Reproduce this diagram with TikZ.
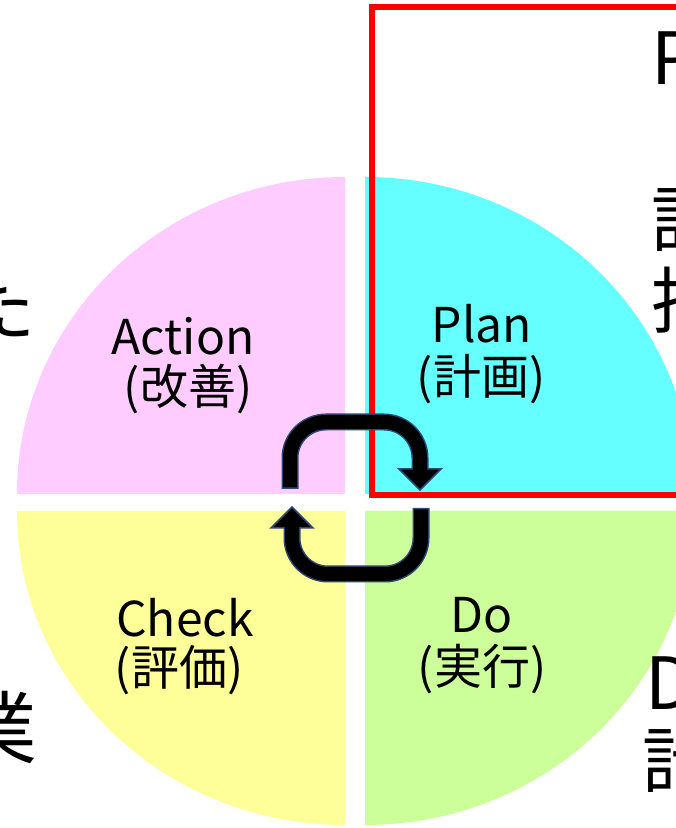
\documentclass[tikz,border=0pt]{standalone}
\usepackage{fontspec}
\setmainfont{Noto Sans CJK JP}
\definecolor{qpink}{HTML}{FFCCFF}
\definecolor{qcyan}{HTML}{66FFFF}
\definecolor{qyellow}{HTML}{FFFF99}
\definecolor{qgreen}{HTML}{CCFF99}
\definecolor{arrnavy}{RGB}{47,72,120}
\begin{document}
\begin{tikzpicture}[x=1pt,y=1pt,
  lbl/.style={font=\fontsize{48}{52}\selectfont, anchor=base, inner sep=0pt},
  bigw/.style={font=\fontsize{72}{80}\selectfont, anchor=base west, inner sep=0pt},
  bige/.style={font=\fontsize{72}{80}\selectfont, anchor=base east, inner sep=0pt},
  shaftout/.style={draw=arrnavy, line width=17pt, rounded corners=36pt},
  shaftin/.style={draw=black, line width=14pt, rounded corners=36pt},
  headtri/.style={fill=black, draw=arrnavy, line width=1.5pt, line join=miter}]
\useasboundingbox (0,0) rectangle (676,828);
\clip (0,0) rectangle (676,828);
\fill[white] (0,0) rectangle (676,828);
% quadrants
\fill[qpink] (345,334) -- (17,334) arc[start angle=180, end angle=90, x radius=328, y radius=317] -- cycle;
\fill[qcyan] (365,334) -- (365,651) arc[start angle=90, end angle=0, x radius=328, y radius=317] -- cycle;
\fill[qyellow] (345,317) -- (17,317) arc[start angle=180, end angle=270, x radius=328, y radius=314] -- cycle;
\fill[qgreen] (365,317) -- (693,317) arc[start angle=0, end angle=-90, x radius=328, y radius=314] -- cycle;
% red frame
\coordinate (rA) at (372,333);
\coordinate (rB) at (720,820.5);
\draw[red, line width=6pt] (rA) rectangle (rB);
% labels
\node[lbl] (act) at (183,473) {Action};
\node[lbl] (actj) at (188,423) {(改善)};
\node[lbl] (plan) at (482,485) {Plan};
\node[lbl] (planj) at (481,433) {(計画)};
\node[lbl] (chk) at (185,191) {Check};
\node[lbl] (chkj) at (179,142) {(評価)};
\node[lbl] (do) at (482,195) {Do};
\node[lbl] (doj) at (482,143) {(実行)};
% clipped edge texts
\node[bigw] (tp) at (651,743) {P};
\node[bigw] (tk1) at (651,581) {計};
\node[bigw] (tk2) at (651,500) {指};
\node[bigw] (td) at (645,118) {D};
\node[bigw] (tk3) at (642,40) {計};
\node[bige] (tta) at (36,492) {た};
\node[bige, font=\fontsize{80}{88}\selectfont] (tgy) at (38,69) {業};
% top arrow
\coordinate (a1s) at (290,339);
\coordinate (a1i) at (290,340.5);
\coordinate (a1p) at (290,406);
\coordinate (a1q) at (420,406);
\coordinate (a1b) at (420,359);
\coordinate (a1x) at (420,356);
\coordinate (a1l) at (399,359);
\coordinate (a1r) at (441,359);
\coordinate (a1t) at (420,338);
\draw[shaftout] (a1s) -- (a1p) -- (a1q) -- (a1b);
\draw[headtri] (a1l) -- (a1r) -- (a1t) -- cycle;
\draw[shaftin] (a1i) -- (a1p) -- (a1q) -- (a1x);
% bottom arrow
\coordinate (a2s) at (421,320);
\coordinate (a2i) at (421,318.5);
\coordinate (a2p) at (421,254);
\coordinate (a2q) at (292,254);
\coordinate (a2b) at (292,300);
\coordinate (a2x) at (292,303);
\coordinate (a2l) at (271,300);
\coordinate (a2r) at (313,300);
\coordinate (a2t) at (292,321);
\draw[shaftout] (a2s) -- (a2p) -- (a2q) -- (a2b);
\draw[headtri] (a2l) -- (a2r) -- (a2t) -- cycle;
\draw[shaftin] (a2i) -- (a2p) -- (a2q) -- (a2x);
\end{tikzpicture}
\end{document}
